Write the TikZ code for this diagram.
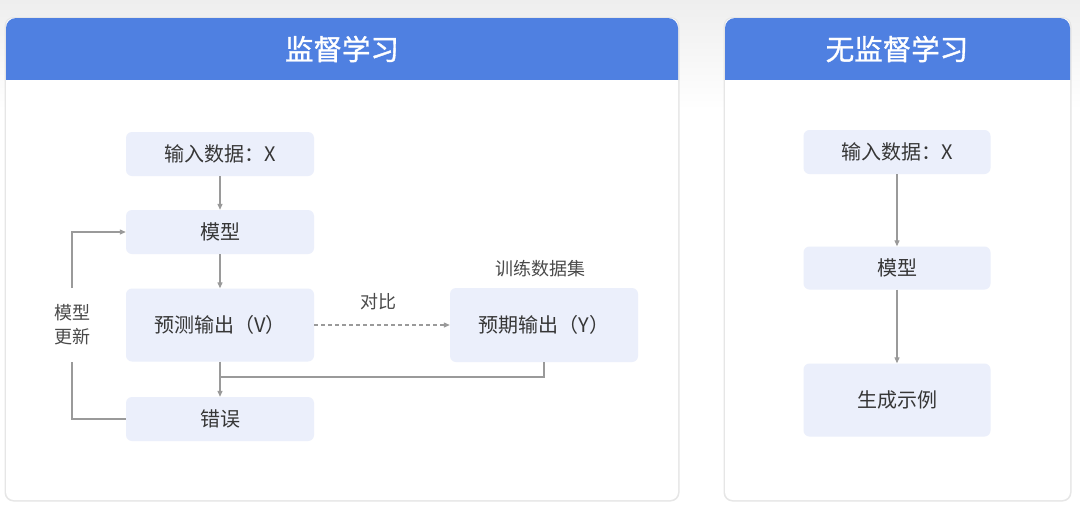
\documentclass[tikz,border=0pt]{standalone}
\usepackage{fontspec}
\setmainfont{Noto Sans CJK SC}
\newfontfamily\titlefont{Noto Sans CJK SC}[FakeBold=1.2]
\usetikzlibrary{arrows.meta}
\definecolor{hdr}{HTML}{4F80E1}
\definecolor{boxfill}{HTML}{EBEFFB}
\definecolor{txt}{HTML}{363636}
\definecolor{lbltxt}{HTML}{4A4A4A}
\definecolor{ln}{HTML}{9A9A9A}
\definecolor{bgtop}{HTML}{EEEEEE}
\definecolor{shd}{HTML}{E6E6E6}
\tikzset{
  px/.style={x=1pt,y=-1pt},
  box/.style={fill=boxfill, rounded corners=6pt, text=txt, font=\fontsize{20}{24}\selectfont, inner sep=0pt},
  lbl/.style={text=lbltxt, font=\fontsize{18}{22}\selectfont, inner sep=0pt},
  conn/.style={draw=ln, line width=1.2pt},
  arr/.style={conn, -{Triangle[length=6pt,width=5pt]}},
  title/.style={text=white, font=\titlefont\fontsize{28.5}{32}\selectfont, inner sep=0pt},
}
\begin{document}
\begin{tikzpicture}[px]
\useasboundingbox (0,0) rectangle (1080,528);
% background
\fill[white] (0,0) rectangle (1080,528);
\shade[top color=bgtop, bottom color=white] (0,0) rectangle (1080,110);
% panels
\foreach \a/\b in {6/678, 725/1070} {
  \fill[shd, rounded corners=9pt] (\a-1.5,17) rectangle (\b+1.5,501.5);
  \fill[white, rounded corners=8pt] (\a,18) rectangle (\b,500);
  \begin{scope}
    \clip (\a-1,17) rectangle (\b+1,79);
    \fill[hdr, rounded corners=10pt] (\a,18) rectangle (\b,110);
  \end{scope}
}
\node[title] (t1) at (342,49) {监督学习};
\node[title] (t2) at (897,49) {无监督学习};
% left panel nodes
\node[box, minimum width=188pt, minimum height=44pt] (in1) at (220,154) {输入数据：X};
\node[box, minimum width=188pt, minimum height=44pt] (m1) at (220,232) {模型};
\node[box, minimum width=188pt, minimum height=73pt] (pv) at (220,325) {预测输出（V）};
\node[box, minimum width=188pt, minimum height=44pt] (err) at (220,419) {错误};
\node[box, minimum width=188pt, minimum height=74pt] (py) at (544,325) {预期输出（Y）};
\node[lbl] (ds) at (540,269) {训练数据集};
\node[lbl] (cmp) at (378,302) {对比};
\node[lbl, align=center, font=\fontsize{18}{24}\selectfont] (upd) at (72,325) {模型\\更新};
\coordinate (j) at (220,377);
\coordinate (fb1) at (72,419);
\coordinate (fb2) at (72,232);
\coordinate (gapb) at (72,362);
\coordinate (gapt) at (72,288);
\draw[arr] (in1) -- (m1);
\draw[arr] (m1) -- (pv);
\draw[arr] (pv) -- (err);
\draw[conn] (py.south) |- (j);
\draw[arr, dashed, dash pattern=on 4pt off 3pt] (pv) -- (py);
\draw[conn] (err.west) -- (fb1) -- (gapb);
\draw[arr] (gapt) -- (fb2) -- (m1.west);
% right panel nodes
\node[box, minimum width=187pt, minimum height=44pt] (in2) at (897,152) {输入数据：X};
\node[box, minimum width=187pt, minimum height=43pt] (m2) at (897,268) {模型};
\node[box, minimum width=187pt, minimum height=73pt] (gen) at (897,400) {生成示例};
\draw[arr] (in2) -- (m2);
\draw[arr] (m2) -- (gen);
\end{tikzpicture}
\end{document}
